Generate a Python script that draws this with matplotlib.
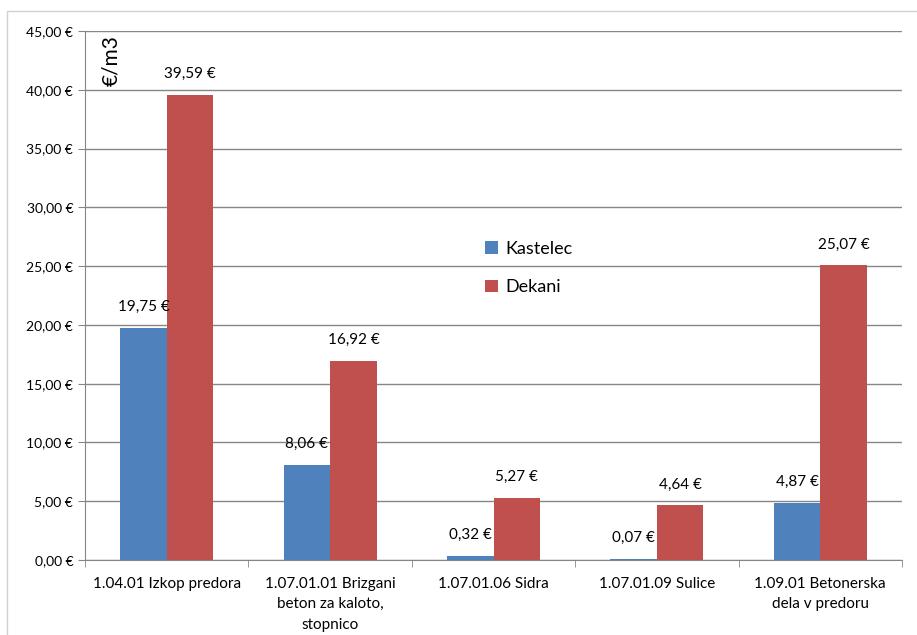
import numpy as np
import matplotlib; matplotlib.use("Agg")
import matplotlib.pyplot as plt
from matplotlib.patches import Rectangle

plt.rcParams["font.family"] = ["Lato", "DejaVu Sans"]

categories = ["1.04.01 Izkop predora", "1.07.01.01 Brizgani\nbeton za kaloto,\nstopnico",
              "1.07.01.06 Sidra", "1.07.01.09 Sulice", "1.09.01 Betonerska\ndela v predoru"]
kastelec = [19.75, 8.06, 0.32, 0.07, 4.87]
dekani = [39.59, 16.92, 5.27, 4.64, 25.07]
yticks = np.arange(0, 46, 5)

def eur(v):
    return f"{v:.2f}".replace(".", ",") + " €"

fig = plt.figure(figsize=(9.17, 6.35), dpi=100)
# outer chart border (only top and left visible in the crop)
fig.patches.append(Rectangle((7 / 917, -20 / 635), 940 / 917, 644 / 635, transform=fig.transFigure,
                             fill=False, edgecolor="#d0d0d0", linewidth=1))
ax = fig.add_axes([85 / 917, 75 / 635, 817 / 917, 529 / 635])

x = np.arange(len(categories))
w = 0.285
b1 = ax.bar(x - w / 2, kastelec, w, color="#4F81BD", label="Kastelec", zorder=3)
b2 = ax.bar(x + w / 2, dekani, w, color="#C0504D", label="Dekani", zorder=3)
for bars, vals in [(b1, kastelec), (b2, dekani)]:
    for r, v in zip(bars, vals):
        ax.annotate(eur(v), (r.get_x() + r.get_width() / 2, v), xytext=(0, 10),
                    textcoords="offset points", ha="center", va="bottom", fontsize=11)

ax.set_xlim(-0.5, len(categories) - 0.5)
ax.set_ylim(0, 45)
ax.set_yticks(yticks)
ax.set_yticklabels([eur(v) for v in yticks], fontsize=10)
ax.set_xticks(x)
ax.set_xticklabels(categories, fontsize=11, linespacing=1.6)
ax.set_xticks(np.arange(-0.5, len(categories)), minor=True)
ax.tick_params(axis="x", which="major", length=0, pad=12)
ax.tick_params(axis="x", which="minor", length=5, color="#868686")
ax.tick_params(axis="y", length=5, color="#868686")
ax.grid(axis="y", color="#868686", linewidth=1, zorder=0)
for s in ["top", "right"]:
    ax.spines[s].set_visible(False)
for s in ["left", "bottom"]:
    ax.spines[s].set_color("#868686")

ax.text(0.032, 0.945, "€/m3", transform=ax.transAxes, rotation=90, fontsize=15,
        ha="center", va="center")
ax.legend(loc="center left", bbox_to_anchor=(0.47, 0.552), frameon=False, fontsize=13,
          handlelength=0.7, handleheight=0.7, labelspacing=1.25, handletextpad=0.4)

fig.savefig("out.png", dpi=100)
